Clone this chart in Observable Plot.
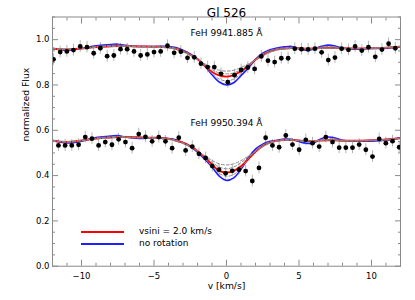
<!DOCTYPE html>
<html><head><meta charset="utf-8">
<script src="https://cdn.jsdelivr.net/npm/d3@7"></script>
<script src="https://cdn.jsdelivr.net/npm/@observablehq/plot@0.6"></script>
<style>
body{margin:0;background:#fff;}
#wrap{position:relative;width:415px;height:300px;font-family:"DejaVu Sans",sans-serif;}
.leg{position:absolute;left:81px;width:43px;height:2px;}
.legt{position:absolute;left:139px;font-size:9px;line-height:10px;color:#000;white-space:pre;}
</style></head><body><div id="wrap"></div>
<script>
// ---- Data ----
const title = "Gl 526";
const lineNames = ["FeH 9941.885 Å", "FeH 9950.394 Å"];
const legendLabels = ["vsini = 2.0 km/s", "no rotation"];
const xTicksMajor = [-10, -5, 0, 5, 10];
const xTicksMinor = [-12,-11,-9,-8,-7,-6,-4,-3,-2,-1,1,2,3,4,6,7,8,9,11,12];
const yTicksMajor = [0, 0.2, 0.4, 0.6, 0.8, 1.0];
const yTicksMinor = [0.05,0.1,0.15,0.25,0.3,0.35,0.45,0.5,0.55,0.65,0.7,0.75,0.85,0.9,0.95,1.05,1.1];
const errBar = 0.026;

// observed points, upper line
const topX = [-11.93,-11.47,-11.01,-10.55,-10.09,-9.62,-9.16,-8.70,-8.23,-7.77,-7.31,-6.85,-6.38,-5.92,-5.46,-5.00,-4.54,-4.07,-3.61,-3.15,-2.69,-2.22,-1.76,-1.30,-0.84,-0.38,0.09,0.55,1.01,1.47,1.94,2.40,2.86,3.32,3.78,4.25,4.71,5.17,5.63,6.10,6.56,7.02,7.48,7.94,8.41,8.87,9.33,9.79,10.26,10.72,11.18,11.64];
const topY = [0.913,0.945,0.948,0.954,0.970,0.967,0.940,0.962,0.927,0.930,0.958,0.958,0.948,0.930,0.935,0.945,0.948,0.973,0.942,0.947,0.920,0.922,0.894,0.879,0.879,0.849,0.812,0.843,0.866,0.877,0.871,0.926,0.907,0.901,0.918,0.918,0.960,0.958,0.957,0.960,0.944,0.910,0.921,0.960,0.955,0.970,0.952,0.967,0.924,0.956,0.982,0.962];
// observed points, lower line
const botX = [-11.59,-11.13,-10.67,-10.20,-9.74,-9.28,-8.82,-8.36,-7.90,-7.44,-6.97,-6.51,-6.05,-5.59,-5.13,-4.67,-4.21,-3.75,-3.29,-2.82,-2.36,-1.90,-1.44,-0.98,-0.52,-0.06,0.40,0.86,1.32,1.78,2.24,2.70,3.17,3.63,4.09,4.55,5.01,5.47,5.93,6.39,6.85,7.31,7.77,8.23,8.69,9.15,9.61,10.07,10.53,10.99,11.45,11.91];
const botY = [0.533,0.533,0.533,0.536,0.570,0.563,0.533,0.548,0.536,0.560,0.548,0.521,0.583,0.571,0.551,0.570,0.551,0.521,0.567,0.511,0.528,0.496,0.478,0.442,0.426,0.410,0.421,0.426,0.420,0.376,0.434,0.567,0.533,0.525,0.577,0.537,0.514,0.558,0.543,0.528,0.570,0.548,0.523,0.523,0.523,0.537,0.514,0.484,0.562,0.543,0.552,0.525];

// model grid
const modelX = [-12,-11,-10,-9,-8,-7.5,-7,-6,-5,-4,-3.5,-3,-2.5,-2,-1.5,-1,-0.5,0,0.5,1,1.5,2,2.5,3,3.5,4,4.5,5,5.5,6,6.5,7,7.5,8,9,10,11,12];
const topRed  = [0.960,0.957,0.961,0.967,0.971,0.972,0.972,0.970,0.969,0.966,0.960,0.949,0.934,0.915,0.884,0.857,0.842,0.837,0.843,0.861,0.884,0.911,0.933,0.948,0.957,0.961,0.963,0.962,0.960,0.961,0.963,0.964,0.963,0.962,0.961,0.962,0.965,0.969];
const topBlue = [0.962,0.953,0.962,0.973,0.978,0.980,0.975,0.970,0.970,0.970,0.965,0.953,0.937,0.914,0.885,0.845,0.813,0.800,0.810,0.841,0.874,0.913,0.940,0.955,0.963,0.968,0.970,0.960,0.953,0.958,0.970,0.976,0.972,0.962,0.958,0.961,0.962,0.968];
const topGrayA = [0.961,0.955,0.962,0.970,0.975,0.976,0.974,0.970,0.969,0.968,0.962,0.951,0.935,0.914,0.884,0.850,0.826,0.818,0.826,0.850,0.880,0.912,0.937,0.952,0.960,0.964,0.966,0.961,0.957,0.960,0.966,0.970,0.968,0.962,0.960,0.962,0.964,0.969];
const topGrayB = [0.960,0.958,0.961,0.966,0.970,0.971,0.971,0.970,0.968,0.965,0.959,0.947,0.932,0.914,0.890,0.868,0.853,0.849,0.853,0.868,0.889,0.911,0.931,0.946,0.956,0.960,0.962,0.962,0.961,0.961,0.962,0.963,0.963,0.962,0.961,0.962,0.965,0.969];
const topGrayC = [0.960,0.958,0.961,0.966,0.969,0.970,0.970,0.969,0.967,0.963,0.957,0.945,0.930,0.913,0.894,0.877,0.865,0.861,0.865,0.877,0.893,0.910,0.928,0.943,0.954,0.959,0.961,0.962,0.961,0.961,0.962,0.963,0.962,0.962,0.961,0.962,0.965,0.969];
const botRed  = [0.553,0.549,0.555,0.563,0.568,0.570,0.570,0.569,0.567,0.562,0.555,0.545,0.530,0.509,0.479,0.449,0.421,0.414,0.421,0.441,0.472,0.505,0.531,0.547,0.554,0.557,0.557,0.555,0.553,0.553,0.555,0.556,0.556,0.554,0.554,0.556,0.559,0.565];
const botBlue = [0.556,0.544,0.552,0.568,0.574,0.577,0.570,0.564,0.567,0.564,0.558,0.545,0.528,0.503,0.472,0.438,0.398,0.379,0.390,0.428,0.478,0.517,0.539,0.551,0.556,0.561,0.560,0.550,0.543,0.544,0.562,0.570,0.566,0.556,0.552,0.552,0.556,0.567];
const botGrayA = [0.555,0.547,0.554,0.566,0.571,0.573,0.571,0.566,0.567,0.563,0.556,0.545,0.529,0.506,0.476,0.442,0.410,0.397,0.405,0.433,0.474,0.510,0.535,0.549,0.555,0.559,0.558,0.553,0.548,0.549,0.558,0.563,0.561,0.555,0.553,0.554,0.557,0.566];
const botGrayB = [0.553,0.550,0.555,0.562,0.567,0.569,0.569,0.568,0.566,0.561,0.554,0.543,0.528,0.509,0.484,0.459,0.438,0.430,0.438,0.457,0.482,0.506,0.529,0.545,0.553,0.556,0.557,0.555,0.554,0.554,0.555,0.556,0.556,0.554,0.554,0.556,0.559,0.565];
const botGrayC = [0.553,0.550,0.555,0.562,0.566,0.568,0.568,0.567,0.565,0.559,0.552,0.541,0.526,0.509,0.488,0.467,0.452,0.447,0.452,0.466,0.486,0.506,0.527,0.543,0.552,0.556,0.557,0.555,0.554,0.554,0.555,0.556,0.556,0.554,0.554,0.556,0.559,0.565];

// ---- Build tables ----
const obs = [...topX.map((x,i)=>({x, y: topY[i]})), ...botX.map((x,i)=>({x, y: botY[i]}))];
function series(arr, key, grp){ return arr.map((y,i)=>({x: modelX[i], y, key, grp})); }
const grays = [...series(topGrayA,"A","t"),...series(topGrayB,"B","t"),...series(topGrayC,"C","t"),
               ...series(botGrayA,"A","b"),...series(botGrayB,"B","b"),...series(botGrayC,"C","b")];
const reds = [...series(topRed,"r","t"), ...series(botRed,"r","b")];
const blues = [...series(topBlue,"u","t"), ...series(botBlue,"u","b")];

const RED = "#ff0000", BLUE = "#1f1fff", AX = "#8a8a8a";
const noText = () => "";

const chart = Plot.plot({
  width: 415, height: 300,
  marginLeft: 52, marginRight: 15, marginTop: 16.5, marginBottom: 34.3,
  style: {fontFamily: "'DejaVu Sans', sans-serif", fontSize: "8px", background: "#fff", color: "#000"},
  x: {domain: [-12, 12]},
  y: {domain: [0, 1.1]},
  marks: [
    Plot.ruleX(obs, {x: "x", y1: d => d.y - errBar, y2: d => d.y + errBar, stroke: "#b4b4b4", strokeWidth: 1, clip: true}),
    Plot.line(blues, {x: "x", y: "y", z: "grp", stroke: BLUE, strokeWidth: 1.6, curve: "catmull-rom", clip: true}),
    Plot.line(reds, {x: "x", y: "y", z: "grp", stroke: RED, strokeWidth: 1.9, curve: "catmull-rom", clip: true}),
    Plot.line(grays, {x: "x", y: "y", z: d => d.key + d.grp, stroke: "#8a8a8a", strokeWidth: 1, strokeDasharray: "3,2", curve: "catmull-rom", clip: true}),
    Plot.dot(obs, {x: "x", y: "y", r: 2.4, fill: "#000", stroke: "none", clip: true}),
    Plot.frame({stroke: AX}),
    Plot.axisX(xTicksMajor, {anchor: "bottom", tickSize: -6, tickPadding: 12.7, label: null, stroke: AX, fill: "#000", fontSize: 8.5}),
    Plot.axisX(xTicksMinor, {anchor: "bottom", tickSize: -3, tickFormat: noText, label: null, stroke: AX}),
    Plot.axisX(xTicksMajor, {anchor: "top", tickSize: -6, tickFormat: noText, label: null, stroke: AX}),
    Plot.axisX(xTicksMinor, {anchor: "top", tickSize: -3, tickFormat: noText, label: null, stroke: AX}),
    Plot.axisY(yTicksMajor, {anchor: "left", tickSize: -6, tickPadding: 9, tickFormat: d => d.toFixed(1), label: null, stroke: AX, fill: "#000", fontSize: 8.5}),
    Plot.axisY(yTicksMinor, {anchor: "left", tickSize: -3, tickFormat: noText, label: null, stroke: AX}),
    Plot.axisY(yTicksMajor, {anchor: "right", tickSize: -6, tickFormat: noText, label: null, stroke: AX}),
    Plot.axisY(yTicksMinor, {anchor: "right", tickSize: -3, tickFormat: noText, label: null, stroke: AX}),
    Plot.text([title], {frameAnchor: "top", dy: -9, fontSize: 12, fill: "#000"}),
    Plot.text([lineNames[0]], {frameAnchor: "top", dy: 13, fontSize: 9, fill: "#000"}),
    Plot.text([lineNames[1]], {frameAnchor: "top", dy: 103, fontSize: 9, fill: "#000"}),
    Plot.text(["v [km/s]"], {frameAnchor: "bottom", dy: 22.6, fontSize: 9.2, fill: "#000"}),
    Plot.text(["normalized Flux"], {frameAnchor: "left", dx: -26, rotate: -90, fontSize: 9.3, fill: "#000"})
  ]
});
const wrap = document.getElementById("wrap");
wrap.appendChild(chart);
// legend (inside plot area)
const legColors = [RED, BLUE];
const legTop = [230.7, 242.7];
legendLabels.forEach((lab, i) => {
  const l = document.createElement("div");
  l.className = "leg"; l.style.top = legTop[i] + "px"; l.style.background = legColors[i];
  wrap.appendChild(l);
  const t = document.createElement("div");
  t.className = "legt"; t.style.top = (legTop[i] - 4.5) + "px"; t.textContent = lab;
  wrap.appendChild(t);
});
</script></body></html>
